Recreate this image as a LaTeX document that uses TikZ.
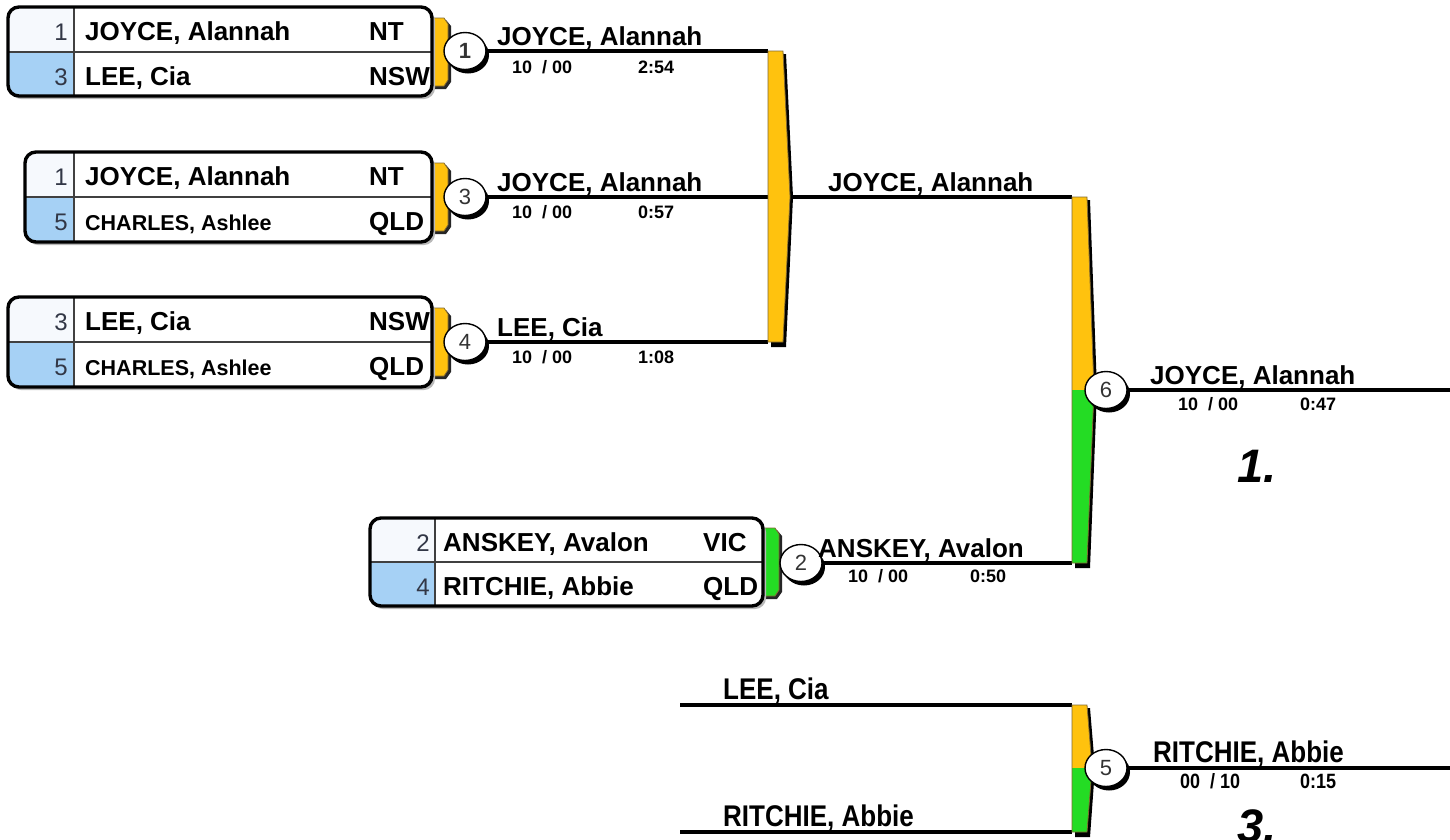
\documentclass[tikz,border=0pt]{standalone}
\usepackage{fontspec}
\setmainfont{Liberation Sans}
\usetikzlibrary{shapes.geometric,shadows}
\definecolor{byel}{RGB}{255,194,14}
\definecolor{bgrn}{RGB}{36,220,36}
\definecolor{bblue}{RGB}{166,209,245}
\definecolor{bpale}{RGB}{246,249,253}
\definecolor{yedge}{RGB}{130,105,50}
\definecolor{seedc}{RGB}{50,55,70}
\tikzset{
  wire/.style={line width=3.4pt},
  nametxt/.style={font=\fontsize{26}{26}\selectfont\bfseries, anchor=base west, inner sep=0pt},
  seedtxt/.style={font=\fontsize{24}{24}\selectfont, text=seedc, anchor=base east, inner sep=0pt},
  lbl/.style={font=\fontsize{26}{26}\selectfont\bfseries, anchor=base west, inner sep=0pt},
  sc/.style={font=\fontsize{18}{18}\selectfont\bfseries, anchor=base west, inner sep=0pt},
  place/.style={font=\fontsize{47}{47}\selectfont\bfseries\itshape, anchor=base west, inner sep=0pt},
  circ/.style={ellipse, draw=black, line width=1.4pt, fill=white, minimum width=42pt,
    minimum height=37pt, inner sep=0pt, font=\fontsize{22}{22}\selectfont, text=black!80,
    drop shadow={shadow xshift=3pt, shadow yshift=-4pt, fill=black, opacity=1}}
}
% table box: id x0 y0 x1 y1 xd ym
\newcommand\Tbox[7]{%
  \fill[gray!55, rounded corners=11pt] (#2+2,#3+3) rectangle (#4+3,#5+3);
  \begin{scope}
    \clip[rounded corners=11pt] (#2,#3) rectangle (#4,#5);
    \fill[white] (#2,#3) rectangle (#4,#5);
    \fill[bpale] (#2,#3) rectangle (#6,#7);
    \fill[bblue] (#2,#7) rectangle (#6,#5);
  \end{scope}
  \draw[line width=1.3pt, black!75] (#2,#7) -- (#4,#7);
  \draw[line width=1.3pt, black!75] (#6,#3) -- (#6,#5);
  \draw[line width=3.4pt, rounded corners=11pt] (#2,#3) rectangle (#4,#5);
  \coordinate (#1) at (#4,#7);
}
% table row: id xseed xname xstate baseline seed name state
\newcommand\Trow[8]{%
  \node[seedtxt] (#1s) at (#2,#5) {#6};
  \node[nametxt] (#1n) at (#3,#5) {#7};
  \node[nametxt] (#1c) at (#4,#5) {#8};
}
% tab: x y0 y1 colour
\newcommand\Ttab[4]{%
  \fill[black!85] (#1,#2+2) -- (#1+14,#2+2) -- (#1+19,#2+8) -- (#1+19,#3-4) -- (#1+14,#3+3) -- (#1,#3+3) -- cycle;
  \filldraw[fill=#4, draw=yedge, line width=0.8pt] (#1,#2) -- (#1+12,#2) -- (#1+16,#2+6) -- (#1+16,#3-6) -- (#1+12,#3) -- (#1,#3) -- cycle;
}
% bracket: x ytop ymid ybot xtip bottom-colour
\newcommand\Tbrk[6]{%
  \fill[black] (#1+3,#2+3) -- (#1+18,#2+3) -- (#5+3,#3) -- (#1+18,#4+5) -- (#1+3,#4+5) -- cycle;
  \fill[byel] (#1,#2) -- (#1+15,#2) -- (#5,#3) -- (#1,#3) -- cycle;
  \fill[#6] (#1,#3) -- (#5,#3) -- (#1+15,#4) -- (#1,#4) -- cycle;
  \draw[yedge, line width=0.8pt] (#1,#2) -- (#1+15,#2) -- (#5,#3) -- (#1+15,#4) -- (#1,#4) -- cycle;
}
\begin{document}
\begin{tikzpicture}[x=1pt,y=-1pt]
\useasboundingbox (0,0) rectangle (1450,839);
\fill[white] (0,0) rectangle (1450,839);

% ---- end points
\coordinate (c1) at (768,51);
\coordinate (c3) at (768,197);
\coordinate (c4) at (768,342);
\coordinate (k1) at (790,197);
\coordinate (c7) at (1072,197);
\coordinate (c2) at (1072,563);
\coordinate (e6) at (1450,390);
\coordinate (s1) at (680,705);
\coordinate (c8) at (1072,705);
\coordinate (s2) at (680,832);
\coordinate (c9) at (1072,832);
\coordinate (e5) at (1450,768);

% ---- circle centres
\path (465,51) coordinate (p1) (465,197) coordinate (p3) (465,342) coordinate (p4)
      (801,563) coordinate (p2) (1106,390) coordinate (p6) (1106,768) coordinate (p5);

% ---- wires
\draw[wire] (p1) -- (c1);
\draw[wire] (p3) -- (c3);
\draw[wire] (p4) -- (c4);
\draw[wire] (k1) -- (c7);
\draw[wire] (p2) -- (c2);
\draw[wire] (p6) -- (e6);
\draw[wire] (s1) -- (c8);
\draw[wire] (s2) -- (c9);
\draw[wire] (p5) -- (e5);

% ---- brackets
\Tbrk{768}{51}{197}{342}{790}{byel}
\Tbrk{1072}{197}{390}{563}{1094}{bgrn}
\Tbrk{1072}{705}{768}{832}{1092}{bgrn}

% ---- tabs
\Ttab{432}{18}{86}{byel}
\Ttab{432}{163}{231}{byel}
\Ttab{432}{308}{376}{byel}
\Ttab{763}{528}{596}{bgrn}

% ---- boxes
\Tbox{b1}{8}{7}{432}{96}{74}{52}
\Trow{r1a}{68}{85}{369}{40}{1}{JOYCE, Alannah}{NT}
\Trow{r1b}{68}{85}{369}{85}{3}{LEE, Cia}{NSW}

\Tbox{b2}{25}{152}{432}{242}{74}{197}
\Trow{r2a}{68}{85}{369}{185}{1}{JOYCE, Alannah}{NT}
\Trow{r2b}{68}{85}{369}{230}{5}{\fontsize{21.5}{21.5}\selectfont CHARLES, Ashlee}{QLD}

\Tbox{b3}{8}{297}{432}{387}{74}{342}
\Trow{r3a}{68}{85}{369}{330}{3}{LEE, Cia}{NSW}
\Trow{r3b}{68}{85}{369}{375}{5}{\fontsize{21.5}{21.5}\selectfont CHARLES, Ashlee}{QLD}

\Tbox{b4}{370}{518}{763}{606}{435}{562}
\Trow{r4a}{430}{443}{703}{551}{2}{ANSKEY, Avalon}{VIC}
\Trow{r4b}{430}{443}{703}{595}{4}{RITCHIE, Abbie}{QLD}

% ---- match circles
\node[circ] (m1) at (p1) {\bfseries 1};
\node[circ] (m3) at (p3) {3};
\node[circ] (m4) at (p4) {4};
\node[circ] (m2) at (p2) {2};
\node[circ] (m6) at (p6) {6};
\node[circ] (m5) at (p5) {5};

% ---- labels
\node[lbl] (w1) at (497,45) {JOYCE, Alannah};
\node[sc] (w1s) at (512,73) {10\ \ / 00};
\node[sc] (w1t) at (638,73) {2:54};

\node[lbl] (w3) at (497,191) {JOYCE, Alannah};
\node[sc] (w3s) at (512,218) {10\ \ / 00};
\node[sc] (w3t) at (638,218) {0:57};

\node[lbl] (w4) at (497,336) {LEE, Cia};
\node[sc] (w4s) at (512,363) {10\ \ / 00};
\node[sc] (w4t) at (638,363) {1:08};

\node[lbl] (w7) at (828,191) {JOYCE, Alannah};

\node[lbl] (w2) at (818,557) {ANSKEY, Avalon};
\node[sc] (w2s) at (848,582) {10\ \ / 00};
\node[sc] (w2t) at (970,582) {0:50};

\node[lbl] (w6) at (1150,384) {JOYCE, Alannah};
\node[sc] (w6s) at (1178,410) {10\ \ / 00};
\node[sc] (w6t) at (1300,410) {0:47};
\node[place] (pl1) at (1237,482) {1.};

\node[lbl] (wl) at (723,699) {\scalebox{1}[1.15]{LEE, Cia}};
\node[lbl] (wr) at (723,826) {\scalebox{1}[1.15]{RITCHIE, Abbie}};
\node[lbl] (w5) at (1153,762) {\scalebox{1}[1.15]{RITCHIE, Abbie}};
\node[sc] (w5s) at (1180,788) {\scalebox{1}[1.15]{00\ \ / 10}};
\node[sc] (w5t) at (1300,788) {\scalebox{1}[1.15]{0:15}};
\node[place] (pl3) at (1237,842) {3.};
\end{tikzpicture}
\end{document}
